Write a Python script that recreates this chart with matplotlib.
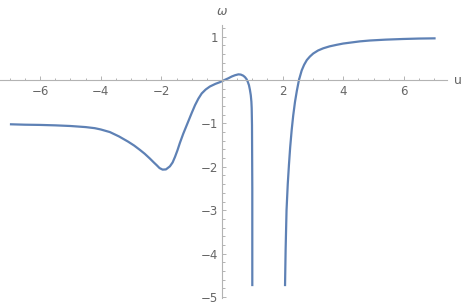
import numpy as np
import matplotlib.pyplot as plt

# curve, two branches (pole near u=1 and u=2)
u_left = [-7.0, -6.5, -6.0, -5.5, -5.0, -4.5, -4.2, -4.0, -3.7, -3.4, -3.1, -2.9,
          -2.71, -2.55, -2.38, -2.25, -2.16, -2.06, -1.96, -1.85, -1.72, -1.63,
          -1.55, -1.47, -1.39, -1.28, -1.14, -1.0, -0.89, -0.78, -0.67, -0.54,
          -0.40, -0.22, -0.07, 0.05, 0.21, 0.32, 0.43, 0.54, 0.62, 0.70, 0.76,
          0.81, 0.85, 0.89, 0.92, 0.95, 0.97, 0.98, 0.99, 1.0, 1.0]
w_left = [-1.02, -1.03, -1.035, -1.045, -1.06, -1.085, -1.11, -1.14, -1.20, -1.30,
          -1.42, -1.51, -1.61, -1.70, -1.81, -1.90, -1.96, -2.03, -2.065, -2.06,
          -1.99, -1.90, -1.77, -1.62, -1.45, -1.24, -1.00, -0.76, -0.58, -0.43,
          -0.31, -0.22, -0.15, -0.09, -0.05, -0.01, 0.04, 0.08, 0.11, 0.13, 0.125,
          0.10, 0.065, 0.02, -0.04, -0.12, -0.22, -0.35, -0.50, -0.65, -1.04,
          -2.5, -4.75]

u_right = [2.08, 2.1, 2.13, 2.17, 2.21, 2.25, 2.30, 2.35, 2.41, 2.47, 2.54, 2.63,
           2.71, 2.80, 2.90, 3.01, 3.17, 3.34, 3.55, 3.78, 4.0, 4.22, 4.55, 4.88,
           5.4, 5.98, 6.5, 7.05]
w_right = [-4.75, -3.9, -3.0, -2.4, -1.95, -1.55, -1.15, -0.82, -0.50, -0.25, 0.0,
           0.22, 0.35, 0.46, 0.54, 0.61, 0.68, 0.73, 0.775, 0.81, 0.84, 0.86, 0.89,
           0.91, 0.93, 0.945, 0.955, 0.96]

x_major = [-6, -4, -2, 2, 4, 6]
y_major = [-5, -4, -3, -2, -1, 1]

line_col = '#5E81B5'
axis_col = '#b3b3b3'
text_col = '#666666'

fig = plt.figure(figsize=(4.63, 3.08), dpi=100)
ax = fig.add_axes([0, 0, 1, 1])

ax.plot(u_left, w_left, color=line_col, lw=1.6, solid_capstyle='butt')
ax.plot(u_right, w_right, color=line_col, lw=1.6, solid_capstyle='butt')

# pixel mapping: u=0 at x=222, 30.3 px/unit ; w=0 at y=80, 43.4 px/unit
ax.set_xlim(-222 / 30.3, (463 - 222) / 30.3)
ax.set_ylim((80 - 308) / 43.4, 80 / 43.4)

for s in ['top', 'right']:
    ax.spines[s].set_visible(False)
ax.spines['bottom'].set_position(('data', 0))
ax.spines['left'].set_position(('data', 0))
ax.spines['bottom'].set_bounds(-7.33, 7.43)
ax.spines['left'].set_bounds(-5.02, 1.27)
for s in ['bottom', 'left']:
    ax.spines[s].set_color(axis_col)
    ax.spines[s].set_linewidth(0.8)

ax.set_xticks(x_major)
ax.set_xticklabels([str(v).replace('-', '\u2212') for v in x_major])
ax.set_xticks([v for v in np.arange(-7, 7.01, 0.5) if v not in x_major and v != 0], minor=True)
ax.set_yticks(y_major)
ax.set_yticklabels([str(v).replace('-', '\u2212') for v in y_major])
ax.set_yticks([round(v, 1) for v in np.arange(-5, 1.21, 0.2)
               if abs(v - round(v)) > 1e-6], minor=True)

ax.tick_params(which='both', direction='in', color=axis_col, width=0.7,
               labelcolor=text_col, labelsize=8.5)
ax.tick_params(which='major', length=3.2)
ax.tick_params(which='minor', length=1.8)
ax.tick_params(axis='x', pad=3.5)
ax.tick_params(axis='y', pad=3.0)

ax.text(7.65, 0, 'u', color=text_col, fontsize=9, ha='left', va='center')
ax.text(0, 1.57, '\u03c9', color=text_col, fontsize=9, ha='center', va='center',
        style='italic')

fig.savefig('out.png', dpi=100)
